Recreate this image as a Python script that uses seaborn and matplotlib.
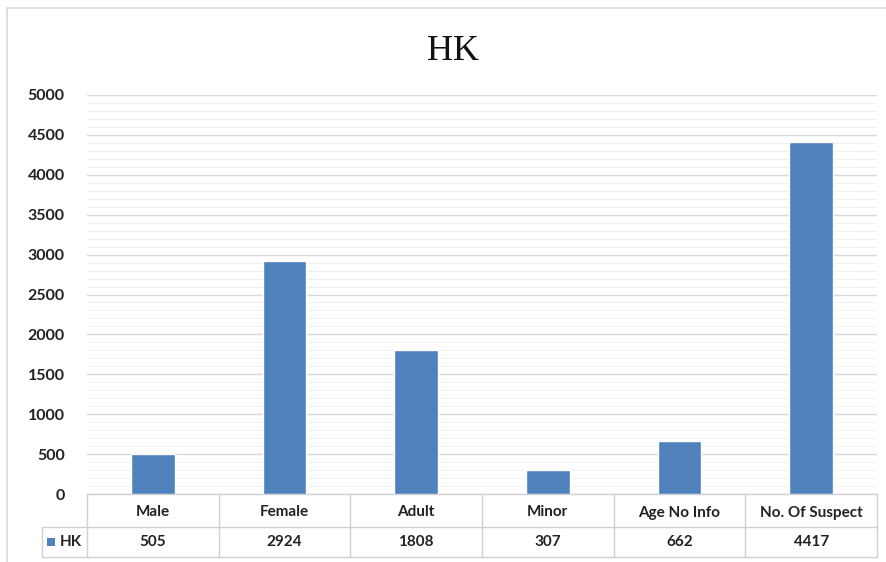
import numpy as np
import pandas as pd
import seaborn as sns
import matplotlib.pyplot as plt
from matplotlib.patches import Rectangle
from matplotlib.ticker import MultipleLocator

categories = ['Male', 'Female', 'Adult', 'Minor', 'Age No Info', 'No. Of Suspect']
values = [505, 2924, 1808, 307, 662, 4417]
series_name = 'HK'

df = pd.DataFrame({'category': categories, 'value': values})

sns.set_style('white')
plt.rcParams['font.family'] = ['Lato', 'DejaVu Sans']

W, H = 887, 562
fig = plt.figure(figsize=(W / 100, H / 100), dpi=100)

# axes placed in pixel terms of the reference
left, right, top, bottom = 87, 877, 95, 494
ax = fig.add_axes([left / W, 1 - bottom / H, (right - left) / W, (bottom - top) / H])

bar_color = '#4f81bd'
sns.barplot(data=df, x='category', y='value', color=bar_color, width=0.33,
            saturation=1, ax=ax, zorder=3)

ax.set_xlim(-0.5, len(categories) - 0.5)
ax.set_ylim(0, 5000)
ax.yaxis.set_major_locator(MultipleLocator(500))
ax.yaxis.set_minor_locator(MultipleLocator(100))
ax.grid(axis='y', which='major', color='#d9d9d9', linewidth=1, zorder=0)
ax.grid(axis='y', which='minor', color='#f0f0f0', linewidth=0.8, zorder=0)
ax.set_axisbelow(True)
for s in ax.spines.values():
    s.set_visible(False)
ax.set_xlabel('')
ax.set_ylabel('')
ax.set_xticks([])
ax.tick_params(axis='y', which='both', length=0, pad=16)
for lbl in ax.get_yticklabels():
    lbl.set_fontweight('bold')
    lbl.set_fontsize(11.5)
    lbl.set_color('#222222')

fig.text(453 / W, 1 - 51 / H, 'HK', ha='center', va='center',
         fontsize=26, family='Liberation Serif', color='#111111')

# data table under the plot
axh = bottom - top
r1 = -33 / axh
r2 = -63 / axh
px = (len(categories)) / (right - left)
x_left = -0.5 - 45 * px
x_right = len(categories) - 0.5
line_kw = dict(color='#d0d0d0', linewidth=1, clip_on=False, transform=ax.get_xaxis_transform())

ax.plot([-0.5, x_right], [0, 0], **line_kw)
ax.plot([x_left, x_right], [r1, r1], **line_kw)
ax.plot([x_left, x_right], [r2, r2], **line_kw)
ax.plot([x_left, x_left], [r1, r2], **line_kw)
for i in range(len(categories) + 1):
    ax.plot([i - 0.5, i - 0.5], [0, r2], **line_kw)

for i, (c, v) in enumerate(zip(categories, values)):
    ax.text(i, r1 / 2 - 2 / axh, c, ha='center', va='center', fontsize=11, fontweight='bold',
            color='#222222', transform=ax.get_xaxis_transform(), clip_on=False)
    ax.text(i, (r1 + r2) / 2, str(v), ha='center', va='center', fontsize=11,
            fontweight='bold', color='#222222', transform=ax.get_xaxis_transform(),
            clip_on=False)

fig.patches.append(Rectangle((47 / W, 1 - 546 / H), 8 / W, 8 / H, transform=fig.transFigure,
                             facecolor=bar_color, edgecolor='none'))
fig.text(60 / W, 1 - 542 / H, series_name, ha='left', va='center', fontsize=11,
         fontweight='bold', color='#222222')

# outer chart frame
fig.patches.append(Rectangle((7 / W, -0.05), 1.1, 1 - 8 / H + 0.05, transform=fig.transFigure,
                             facecolor='none', edgecolor='#d9d9d9', linewidth=1.2))

fig.savefig('out.png', dpi=100)
